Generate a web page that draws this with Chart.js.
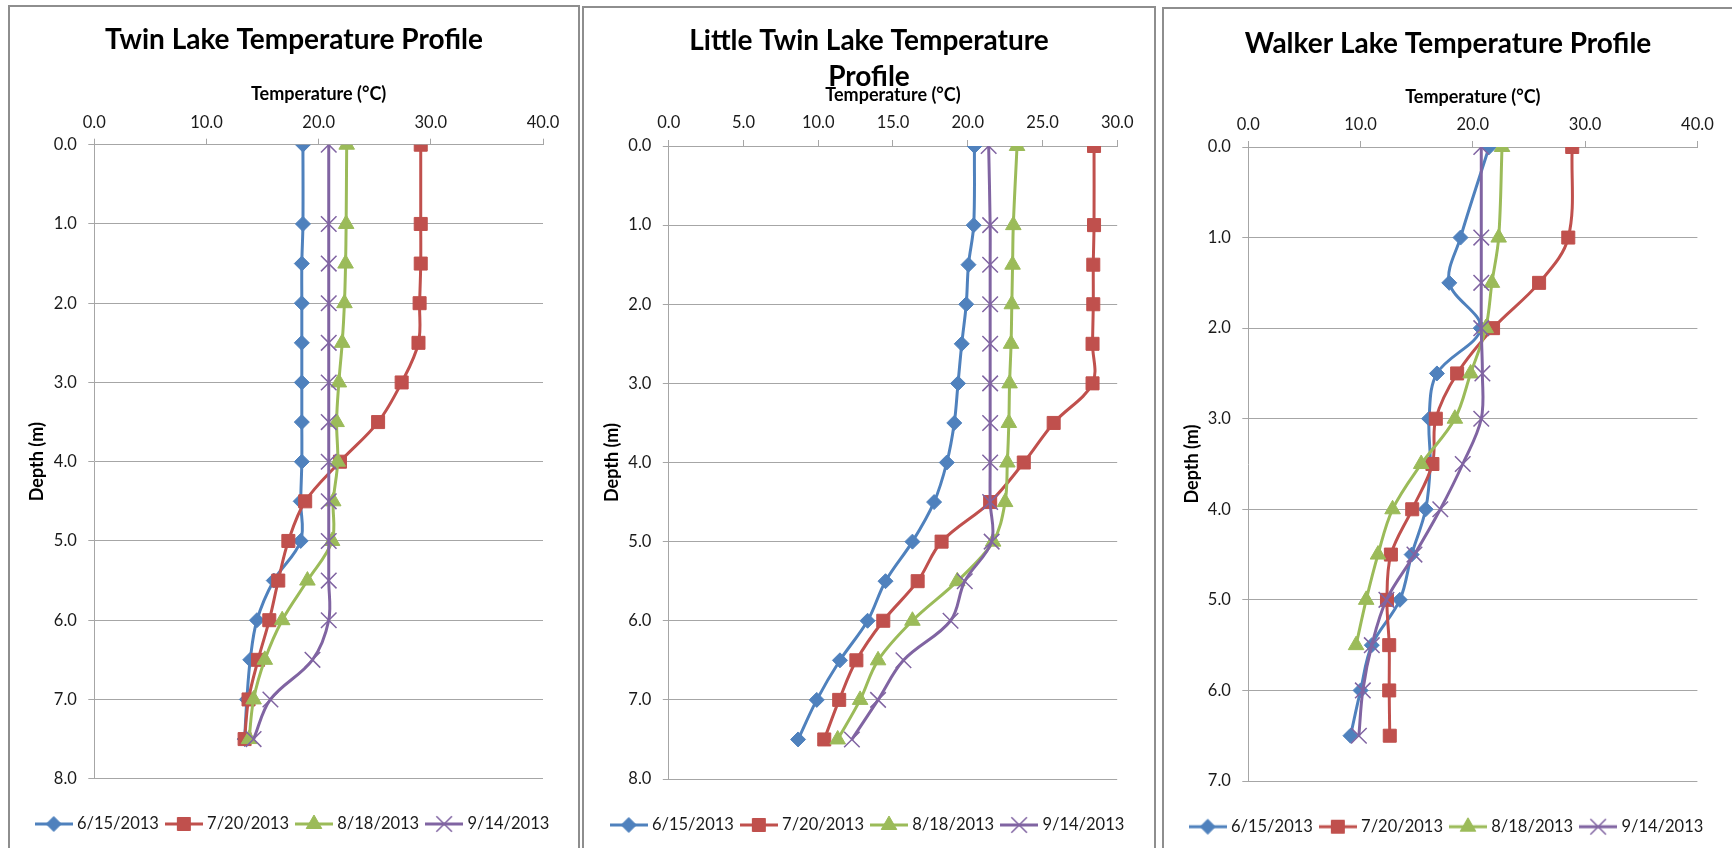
<!DOCTYPE html>
<html>
<head>
<meta charset="utf-8">
<title>Lake Temperature Profiles</title>
<script src="https://cdn.jsdelivr.net/npm/chart.js@4.4.1/dist/chart.umd.min.js"></script>
<style>
  body { margin: 0; background: #fff; width: 1732px; height: 848px; overflow: hidden; position: relative; }
  .panel { position: absolute; border: 2px solid #8e8e8e; box-sizing: border-box; height: 900px; background: #fff; }
  .panel canvas { position: absolute; left: 0; top: 0; }
</style>
</head>
<body>
<div class="panel" style="left:8px;top:5px;width:572px"><canvas id="c1" width="568" height="860"></canvas></div>
<div class="panel" style="left:582px;top:6px;width:574px"><canvas id="c2" width="570" height="860"></canvas></div>
<div class="panel" style="left:1162px;top:7px;width:572px"><canvas id="c3" width="568" height="860"></canvas></div>
<script>
// ---- DATA ----
const seriesNames = ['6/15/2013', '7/20/2013', '8/18/2013', '9/14/2013'];

// Twin Lake
const twinDepth = [0, 1, 1.5, 2, 2.5, 3, 3.5, 4, 4.5, 5, 5.5, 6, 6.5, 7, 7.5];
const twinJun = [18.6, 18.6, 18.5, 18.5, 18.5, 18.5, 18.5, 18.5, 18.4, 18.4, 16.0, 14.5, 13.9, 13.6, 13.4];
const twinJul = [29.1, 29.1, 29.1, 29.0, 28.9, 27.4, 25.3, 21.9, 18.8, 17.3, 16.4, 15.6, 14.6, 13.75, 13.4];
const twinAug = [22.5, 22.45, 22.4, 22.3, 22.1, 21.8, 21.6, 21.7, 21.3, 21.2, 19.0, 16.75, 15.2, 14.2, 13.8];
const twinSep = [20.9, 20.9, 20.9, 20.9, 20.9, 20.9, 20.9, 20.9, 20.9, 20.9, 20.9, 20.9, 19.45, 15.7, 14.2];

// Little Twin Lake
const littleDepth = [0, 1, 1.5, 2, 2.5, 3, 3.5, 4, 4.5, 5, 5.5, 6, 6.5, 7, 7.5];
const littleJun = [20.45, 20.4, 20.05, 19.9, 19.6, 19.35, 19.1, 18.6, 17.75, 16.3, 14.5, 13.3, 11.45, 9.9, 8.65];
const littleJul = [28.45, 28.45, 28.4, 28.4, 28.35, 28.35, 25.75, 23.75, 21.5, 18.25, 16.65, 14.35, 12.55, 11.4, 10.4];
const littleAug = [23.3, 23.05, 23.0, 22.95, 22.9, 22.8, 22.75, 22.65, 22.5, 21.7, 19.3, 16.3, 14.0, 12.8, 11.3];
const littleSep = [21.4, 21.5, 21.5, 21.5, 21.5, 21.5, 21.5, 21.5, 21.5, 21.6, 19.8, 18.85, 15.7, 14.0, 12.25];

// Walker Lake (Aug profile stops at 5.5 m)
const walkerDepth = [0, 1, 1.5, 2, 2.5, 3, 3.5, 4, 4.5, 5, 5.5, 6, 6.5];
const walkerJun = [21.45, 18.9, 17.9, 20.7, 16.8, 16.1, 16.2, 15.8, 14.55, 13.5, 11.0, 10.0, 9.1];
const walkerJul = [28.85, 28.5, 25.9, 21.8, 18.6, 16.7, 16.4, 14.6, 12.7, 12.35, 12.55, 12.55, 12.6];
const walkerAug = [22.6, 22.3, 21.7, 21.15, 19.8, 18.4, 15.4, 12.85, 11.55, 10.5, 9.6];
const walkerSep = [20.75, 20.75, 20.75, 20.75, 20.85, 20.75, 19.1, 17.1, 14.8, 12.3, 11.0, 10.2, 9.85];

// ---- STYLE ----
const COLORS = ['#4F81BD', '#C0504D', '#9BBB59', '#8064A2'];
const MARKERS = ['rectRot', 'rect', 'triangle', 'crossRot'];
const RADII = [7.5, 9.2, 9, 11];
const GRID = '#a6a6a6';
const TEXT = '#1a1a1a';

Chart.defaults.font.family = 'Lato, "Open Sans", sans-serif';
Chart.defaults.animation = false;

// legend swatch: line with the marker in the middle, like Excel
function legendIcon(i) {
  const c = document.createElement('canvas');
  c.width = 38; c.height = 20;
  const g = c.getContext('2d');
  g.strokeStyle = COLORS[i];
  g.fillStyle = COLORS[i];
  g.lineWidth = 3;
  g.beginPath(); g.moveTo(0, 10); g.lineTo(38, 10); g.stroke();
  g.lineWidth = i === 3 ? 1.5 : 1;
  if (Chart.helpers && Chart.helpers.drawPoint) {
    Chart.helpers.drawPoint(g, {pointStyle: MARKERS[i], radius: RADII[i], borderWidth: g.lineWidth, rotation: 0}, 19, 10);
    return c;
  }
  return MARKERS[i];
}
const icons = [0, 1, 2, 3].map(legendIcon);

function pts(depths, temps) {
  return temps.map((t, i) => ({x: t, y: depths[i]}));
}

function makeChart(id, title, depths, series, o) {
  const datasets = series.map((temps, i) => ({
    label: seriesNames[i],
    data: pts(depths, temps),
    showLine: true,
    borderColor: COLORS[i],
    backgroundColor: COLORS[i],
    borderWidth: 3,
    tension: 0.35,
    pointStyle: MARKERS[i],
    pointRadius: RADII[i],
    pointBorderWidth: i === 3 ? 1.5 : 1,
    pointBorderColor: COLORS[i],
    pointBackgroundColor: COLORS[i],
    order: 4 - i,
  }));

  return new Chart(document.getElementById(id), {
    type: 'scatter',
    data: {datasets},
    options: {
      responsive: false,
      layout: {padding: {left: 0, right: 0, top: 0, bottom: o.pb}},
      plugins: {
        tooltip: {enabled: false},
        title: {
          display: true, text: title, color: '#000',
          font: {size: 28, weight: 'bold', lineHeight: 36 / 28},
          padding: o.titlePad,
        },
        legend: {
          position: 'bottom',
          labels: {
            color: TEXT, font: {size: 16.5},
            usePointStyle: true, pointStyleWidth: 30, padding: 10,
            generateLabels: chart => Chart.defaults.plugins.legend.labels.generateLabels(chart)
              .sort((a, b) => a.datasetIndex - b.datasetIndex)
              .map(l => ({...l, pointStyle: icons[l.datasetIndex], fontColor: TEXT})),
          },
        },
      },
      scales: {
        x: {
          type: 'linear', position: 'top', min: 0, max: o.xMax,
          ticks: {stepSize: o.xStep, autoSkip: false, color: TEXT, font: {size: 16.5}, padding: o.xTickPad,
                  callback: v => v.toFixed(1)},
          grid: {drawOnChartArea: false, drawTicks: true, tickLength: 6, color: GRID},
          border: {display: true, color: GRID},
          title: {display: true, text: 'Temperature (°C)', color: '#000', font: {size: 18, weight: 'bold'},
                  padding: {top: o.xTitlePad, bottom: 0}},
          afterFit: s => { s.height = o.xH; },
        },
        y: {
          type: 'linear', position: 'left', reverse: true, min: 0, max: o.yMax,
          ticks: {stepSize: 1, autoSkip: false, color: TEXT, font: {size: 16.5}, padding: 11.4,
                  callback: v => v.toFixed(1)},
          grid: {color: GRID, tickLength: 6},
          border: {display: true, color: GRID},
          title: {display: true, text: 'Depth (m)', color: '#000', font: {size: 18, weight: 'bold'},
                  padding: {top: o.yTitlePad, bottom: 0}},
          afterFit: s => { s.width = o.yW; },
        },
        // empty spacer axes: right margin and gap above the legend
        yr: {
          type: 'linear', position: 'right', display: true,
          ticks: {display: false}, grid: {display: false}, border: {display: false},
          afterFit: s => { s.width = o.rW; },
        },
        xb: {
          type: 'linear', position: 'bottom', display: true,
          ticks: {display: false}, grid: {display: false}, border: {display: false},
          afterFit: s => { s.height = o.gap; },
        },
      },
    },
  });
}

makeChart('c1', 'Twin Lake Temperature Profile', twinDepth, [twinJun, twinJul, twinAug, twinSep], {
  yW: 84.3, rW: 35, titlePad: {top: 15, bottom: 0}, xH: 86.7, xTickPad: 5.8, xTitlePad: 25.5,
  yTitlePad: 16.2, gap: 27, pb: 24.8, xMax: 40, xStep: 10, yMax: 8,
});

makeChart('c2', ['Little Twin Lake Temperature', 'Profile'], littleDepth, [littleJun, littleJul, littleAug, littleSep], {
  yW: 84.8, rW: 36.8, titlePad: {top: 15, bottom: -20}, xH: 71, xTickPad: 7, xTitlePad: 9.5,
  yTitlePad: 17.8, gap: 27.75, pb: 24.75, xMax: 30, xStep: 5, yMax: 8,
});

makeChart('c3', 'Walker Lake Temperature Profile', walkerDepth, [walkerJun, walkerJul, walkerAug, walkerSep], {
  yW: 84.3, rW: 34.6, titlePad: {top: 16.7, bottom: 0}, xH: 85.3, xTickPad: 6, xTitlePad: 24.5,
  yTitlePad: 17.2, gap: 27.45, pb: 24.05, xMax: 40, xStep: 10, yMax: 7,
});
</script>
</body>
</html>
